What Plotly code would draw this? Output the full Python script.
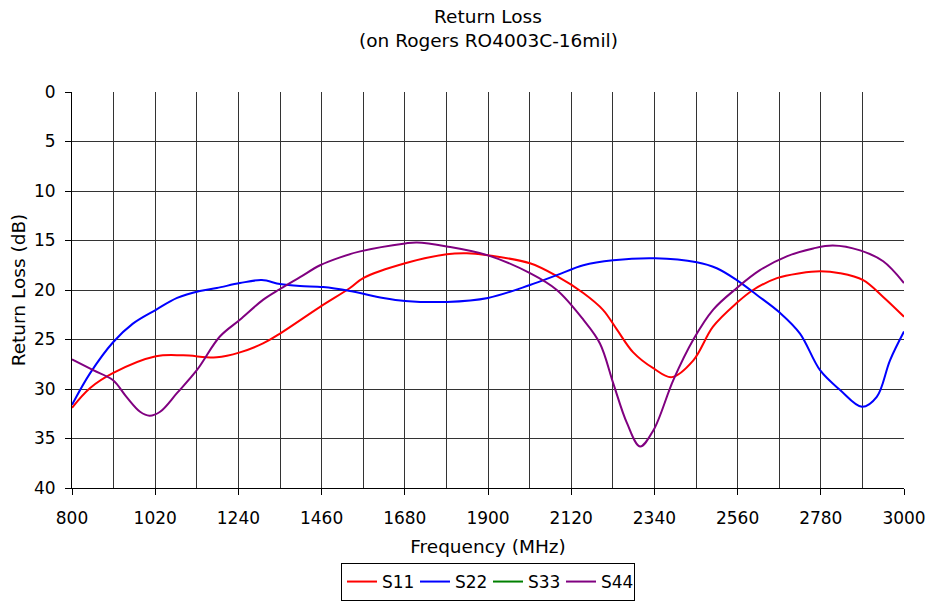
import plotly.graph_objects as go

s11_f = [800, 848, 908, 1022, 1094, 1183, 1244, 1305, 1350, 1456, 1535, 1570, 1681, 1791, 1844, 1900, 2011, 2082, 2152, 2204, 2241, 2284, 2337, 2386, 2443, 2495, 2558, 2601, 2664, 2725, 2778, 2831, 2892, 2945, 3000]
s11_db = [31.9, 29.9, 28.4, 26.7, 26.6, 26.8, 26.3, 25.4, 24.4, 21.7, 19.8, 18.8, 17.3, 16.4, 16.3, 16.5, 17.3, 18.6, 20.3, 22.0, 24.0, 26.3, 27.9, 28.8, 27.1, 23.7, 21.3, 20.0, 18.8, 18.3, 18.1, 18.3, 19.0, 20.7, 22.7]

s22_f = [800, 848, 908, 961, 1022, 1078, 1138, 1183, 1244, 1302, 1350, 1403, 1464, 1535, 1623, 1681, 1791, 1900, 2011, 2082, 2152, 2231, 2342, 2452, 2505, 2558, 2611, 2672, 2725, 2778, 2831, 2889, 2928, 2963, 3000]
s22_db = [31.6, 28.4, 25.3, 23.4, 22.0, 20.8, 20.1, 19.8, 19.3, 19.0, 19.4, 19.6, 19.7, 20.1, 20.8, 21.1, 21.2, 20.8, 19.5, 18.5, 17.5, 17.0, 16.8, 17.2, 17.8, 19.0, 20.5, 22.3, 24.4, 28.1, 30.1, 31.8, 30.8, 27.1, 24.2]

s33_f = [None]
s33_db = [None]

s44_f = [800, 856, 908, 944, 980, 1005, 1033, 1078, 1130, 1191, 1244, 1305, 1350, 1403, 1456, 1509, 1562, 1681, 1712, 1791, 1900, 2011, 2082, 2152, 2196, 2231, 2267, 2302, 2337, 2390, 2443, 2495, 2558, 2619, 2690, 2760, 2812, 2884, 2945, 3000]
s44_db = [27.0, 28.1, 29.1, 30.8, 32.3, 32.7, 32.3, 30.4, 28.1, 24.7, 23.0, 21.0, 19.9, 18.7, 17.5, 16.7, 16.1, 15.3, 15.2, 15.6, 16.5, 18.3, 20.0, 23.0, 25.4, 29.4, 33.4, 35.8, 34.2, 29.1, 25.0, 22.0, 19.8, 18.0, 16.6, 15.8, 15.5, 16.0, 17.1, 19.3]

x_ticks = [800, 1020, 1240, 1460, 1680, 1900, 2120, 2340, 2560, 2780, 3000]
y_ticks = [0, 5, 10, 15, 20, 25, 30, 35, 40]

title_lines = ["Return Loss", "(on Rogers RO4003C-16mil)"]

FONT = "DejaVu Sans"
PLOT_TOP, PLOT_BOTTOM = 92, 488
PLOT_H = PLOT_BOTTOM - PLOT_TOP


def py2paper(py):
    return (PLOT_BOTTOM - py) / PLOT_H


fig = go.Figure()
for name, xs, ys, col in [
    ("S11", s11_f, s11_db, "#FF0000"),
    ("S22", s22_f, s22_db, "#0000FF"),
    ("S33", s33_f, s33_db, "#008000"),
    ("S44", s44_f, s44_db, "#800080"),
]:
    fig.add_trace(go.Scatter(x=xs, y=ys, name=name, mode="lines",
                             line=dict(color=col, width=2, shape="spline", smoothing=1.0),
                             showlegend=True))

for text, py in zip(title_lines, [17, 40]):
    fig.add_annotation(text=text, x=(488 - 72) / 832, xref="paper", y=py2paper(py), yref="paper",
                       xanchor="center", yanchor="middle", showarrow=False,
                       font=dict(family=FONT, size=18.5, color="black"))

fig.update_layout(
    width=930, height=602,
    margin=dict(l=72, r=26, t=92, b=114, autoexpand=False),
    paper_bgcolor="white", plot_bgcolor="white",
    font=dict(family=FONT, size=17, color="black"),
    legend=dict(orientation="h", x=(488 - 72) / 832, xanchor="center", y=py2paper(601), yanchor="bottom",
                bordercolor="black", borderwidth=1, font=dict(family=FONT, size=17),
                itemwidth=30, tracegroupgap=0, entrywidth=28, entrywidthmode="pixels"),
    xaxis=dict(range=[800, 3000], tickvals=x_ticks, showgrid=True, gridcolor="#333333", gridwidth=1,
               minor=dict(dtick=110, tick0=800, showgrid=True, gridcolor="#333333", gridwidth=1, ticks=""),
               ticks="outside", ticklen=6, tickcolor="black", showline=True, linecolor="black", linewidth=1,
               mirror=False, zeroline=False, automargin=False, ticklabelstandoff=9,
               title=dict(text="Frequency (MHz)", font=dict(family=FONT, size=18.5), standoff=12),
               tickfont=dict(family=FONT, size=17)),
    yaxis=dict(range=[40, 0], tickvals=y_ticks, showgrid=True, gridcolor="#333333", gridwidth=1,
               ticks="outside", ticklen=6, tickcolor="black", showline=True, linecolor="black", linewidth=1,
               zeroline=False, automargin=False, ticklabelstandoff=6,
               title=dict(text="Return Loss (dB)", font=dict(family=FONT, size=18.5), standoff=3),
               tickfont=dict(family=FONT, size=17)),
)

fig.write_html("out.html", config={"displayModeBar": False},
               post_script="document.body.style.margin='0';document.body.style.padding='0';")
